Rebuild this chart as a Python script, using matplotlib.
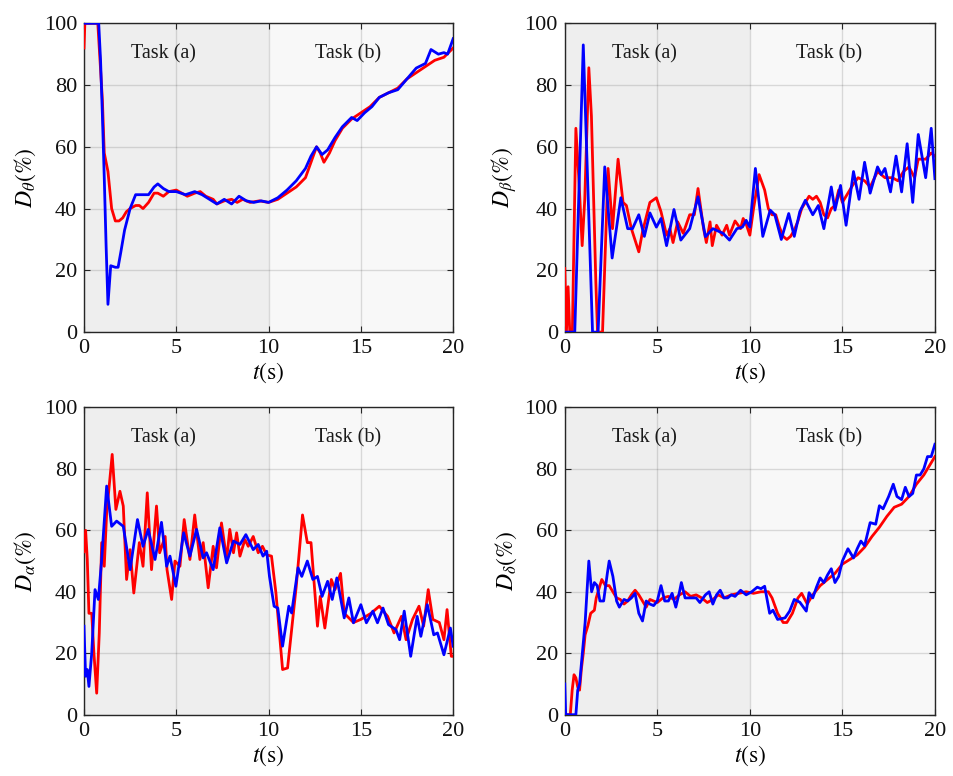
import matplotlib.pyplot as plt

plt.rcParams['font.family'] = ['Liberation Serif', 'DejaVu Serif']
plt.rcParams['mathtext.fontset'] = 'stix'

# ---- datos ----
# D_theta
t_theta_r = [0, 0.05, 0.75, 1.0, 1.1, 1.3, 1.5, 1.6, 1.7, 1.9, 2.1, 2.3, 2.5, 2.8, 3.0, 3.2, 3.5, 3.8, 4.0, 4.3,
             4.6, 5.0, 5.3, 5.6, 6.0, 6.3, 6.6, 7.0, 7.2, 7.6, 8.0, 8.3, 8.6, 9.0, 9.5, 10, 10.5, 11, 11.5, 12,
             12.3, 12.6, 12.8, 13.0, 13.3, 13.6, 14, 14.5, 15, 15.5, 16, 16.5, 17, 17.5, 18, 18.5, 19, 19.5, 20]
theta_r = [92, 100, 100, 75, 58, 52, 40, 38, 36, 36, 37, 39, 40, 41, 41, 40, 42, 45, 45, 44,
           45.5, 46, 45, 44, 45, 45.5, 44, 43, 41.5, 42.5, 43, 42, 43, 42, 42.5, 42, 43, 45, 47, 50,
           55, 60, 58, 55, 58, 62, 66, 69, 71, 73, 76, 77.5, 79, 82, 84, 86, 88, 89, 92]
t_theta_b = [0, 0.8, 0.9, 1.0, 1.1, 1.2, 1.3, 1.45, 1.7, 1.85, 2.0, 2.2, 2.5, 2.8, 3.0, 3.5, 3.8, 4.0, 4.3, 4.6,
             5.0, 5.5, 6.0, 6.4, 6.8, 7.2, 7.6, 8.0, 8.4, 8.8, 9.2, 9.6, 10, 10.5, 11, 11.5, 12, 12.3, 12.6, 12.9,
             13.2, 13.6, 14, 14.5, 14.8, 15.2, 15.6, 16, 16.5, 17, 17.5, 18, 18.5, 18.8, 19.2, 19.5, 19.7, 20]
theta_b = [100, 100, 88, 70, 50, 28, 9, 21.5, 21, 21, 26, 33, 40, 44.5, 44.5, 44.5, 47, 48, 46.5, 45.5,
           45.5, 44.5, 45.5, 44.5, 43, 41.5, 43, 41.5, 44, 42.5, 42, 42.5, 42, 43.5, 46, 49, 53, 57, 60, 57.5,
           59, 63, 66.5, 69.5, 68.5, 71, 73, 76, 77.5, 78.5, 82, 85.5, 87, 91.5, 90, 90.5, 90, 95]

# D_beta
t_beta_r = [0, 0.09, 0.18, 0.27, 0.41, 0.6, 0.77, 0.94, 1.08, 1.3, 1.44, 1.68, 1.77, 2.04, 2.34, 2.58, 2.88, 3.15,
            3.33, 3.6, 4.0, 4.2, 4.6, 4.95, 5.2, 5.5, 5.68, 5.85, 6.1, 6.4, 6.75, 7.0, 7.2, 7.5, 7.65, 7.85,
            7.97, 8.2, 8.5, 8.75, 8.9, 9.2, 9.5, 9.64, 9.8, 10.0, 10.2, 10.5, 10.8, 11.0, 11.2, 11.4, 11.6,
            11.8, 12.0, 12.2, 12.4, 12.6, 12.8, 13.0, 13.2, 13.4, 13.6, 13.8, 14.0, 14.2, 14.4, 14.6, 14.8,
            15.0, 15.2, 15.4, 15.6, 15.85, 16.2, 16.5, 16.9, 17.3, 17.7, 18.0, 18.3, 18.6, 18.9, 19.1, 19.5,
            19.8, 20]
beta_r = [20.6, 0, 14.7, 0, 0, 66, 48.6, 28, 43, 85.6, 70, 16, 0, 0, 53, 33.5, 56, 42,
          41, 33.5, 26, 32.5, 42, 43.5, 39, 31.4, 33.5, 29, 35.7, 32, 38, 38, 46.5, 33.5, 29, 35.7,
          28, 34.6, 31.4, 34.6, 31.4, 36, 33.5, 36.8, 35, 31.4, 40, 51, 46, 40, 38, 38, 34,
          31, 30, 31, 33, 36, 40, 42, 44, 43, 44, 42, 38, 37, 40, 41, 46,
          42, 44, 46, 48, 50, 49, 47, 52, 50, 50, 49, 52, 53.5, 50, 56, 56,
          58, 57]
t_beta_b = [0, 0.54, 1.0, 1.5, 1.8, 2.16, 2.56, 3.03, 3.4, 3.66, 4.0, 4.3, 4.6, 4.95, 5.2, 5.5, 5.9, 6.27,
            6.75, 7.2, 7.6, 8.0, 8.55, 8.9, 9.3, 9.6, 9.8, 10.0, 10.3, 10.7, 11.1, 11.35, 11.7, 12.1, 12.4,
            12.7, 13.0, 13.4, 13.7, 14.0, 14.4, 14.6, 14.9, 15.2, 15.6, 15.9, 16.2, 16.5, 16.9, 17.1, 17.3,
            17.6, 17.9, 18.2, 18.5, 18.8, 19.1, 19.5, 19.8, 20]
beta_b = [0, 0, 93, 0, 0, 53.5, 24, 43.5, 33.5, 33.5, 38, 31, 38.6, 34, 36.8, 28, 39.7, 29.8,
          33.5, 43.8, 30.9, 33.5, 32, 29.8, 33.5, 34, 36.2, 34, 53, 31, 39.5, 38, 30, 38.4, 31,
          39, 42.7, 38, 41, 33.5, 47, 39.5, 47.5, 34.6, 52, 43, 55, 45, 53.5, 51, 53,
          45.4, 57, 45.4, 61, 42, 64, 50, 66, 49.7]

# D_alpha
t_alpha_r = [0, 0.09, 0.18, 0.27, 0.42, 0.54, 0.69, 0.83, 0.96, 1.1, 1.23, 1.53, 1.73, 1.95, 2.13, 2.31, 2.5,
             2.7, 3.0, 3.2, 3.43, 3.66, 3.93, 4.1, 4.4, 4.5, 4.75, 4.93, 5.2, 5.43, 5.74, 6.0, 6.28, 6.46,
             6.73, 7.0, 7.18, 7.45, 7.73, 7.9, 8.1, 8.27, 8.45, 8.72, 8.9, 9.17, 9.44, 9.67, 9.9, 10.16,
             10.4, 10.76, 11.03, 11.5, 11.84, 12.1, 12.3, 12.65, 12.8, 13.05, 13.4, 13.6, 13.9, 14.1, 14.6,
             15.0, 15.55, 16.0, 16.45, 16.8, 17.2, 17.45, 17.8, 18.15, 18.4, 18.65, 18.9, 19.25, 19.5,
             19.67, 19.9, 20]
alpha_r = [53, 60, 50.5, 33, 33, 20, 7, 26.6, 56, 48.3, 65.7, 84.7, 66.8, 72.7, 67.9, 44, 53.7,
           39.6, 56, 48.3, 72.2, 47.2, 67.9, 52.7, 58, 47.2, 37.5, 50, 48.3, 63.5, 50.5, 65, 50.5, 56,
           41.3, 54.8, 47.8, 62.4, 50.5, 60.3, 52.7, 59.2, 51.6, 57, 54.8, 58, 52.7, 54.8, 52, 51.6,
           39.6, 14.7, 15.2, 41.8, 65, 56, 56, 28.8, 38.5, 28.2, 44, 40.7, 46, 33, 30,
           31, 33, 35.3, 32, 26.6, 32, 24.4, 31, 35.3, 28.8, 40.7, 31, 30, 24.4,
           34.2, 19, 19]
t_alpha_b = [0, 0.09, 0.18, 0.27, 0.42, 0.6, 0.78, 0.96, 1.23, 1.5, 1.77, 2.13, 2.5, 2.9, 3.2, 3.48, 3.85,
             4.2, 4.48, 4.66, 4.98, 5.4, 5.74, 6.1, 6.46, 6.64, 7.0, 7.36, 7.73, 8.1, 8.45, 8.77, 9.17,
             9.44, 9.7, 9.9, 10.05, 10.3, 10.5, 10.76, 11.1, 11.25, 11.6, 11.8, 12.1, 12.4, 12.65, 12.9,
             13.2, 13.45, 13.7, 14.1, 14.35, 14.6, 15.0, 15.3, 15.65, 15.9, 16.2, 16.5, 16.9, 17.1, 17.35,
             17.7, 18.05, 18.25, 18.6, 18.95, 19.15, 19.5, 19.85, 20]
alpha_b = [28.8, 12.5, 14.7, 9.2, 20, 40.7, 37.5, 50.5, 74.4, 61.3, 63, 61.3, 47.2, 63.5, 54.8, 60.3, 50.5,
           62.6, 48.3, 51.6, 41.8, 59.2, 51.6, 60.3, 51, 52.7, 47.2, 60.8, 49.4, 56.5, 55.4, 58.6, 53.7,
           55.4, 51.6, 53.2, 45, 35.3, 34.7, 22.3, 35.3, 33.1, 47.8, 45, 50, 44, 45, 38.5,
           43.4, 37.5, 44.5, 31.5, 38, 29.9, 35.8, 29.9, 33.7, 29.9, 34.7, 29.3, 27.7, 24.4, 33.7,
           19, 32, 25.5, 35.8, 26, 26.6, 19.5, 28.2, 22.3]

# D_delta
t_delta_r = [0, 0.3, 0.4, 0.5, 0.6, 0.7, 0.8, 0.9, 1.0, 1.1, 1.25, 1.4, 1.6, 1.7, 1.85, 2.0, 2.2, 2.4, 2.6,
             2.8, 3.0, 3.2, 3.4, 3.6, 3.8, 4.0, 4.2, 4.4, 4.6, 4.8, 5.0, 5.3, 5.6, 5.9, 6.2, 6.5, 6.8, 7.1,
             7.4, 7.7, 8.0, 8.3, 8.6, 9.0, 9.4, 9.8, 10.2, 10.6, 11.0, 11.2, 11.5, 11.8, 12.0, 12.3, 12.6,
             12.8, 13.1, 13.4, 13.8, 14.2, 14.6, 15.0, 15.4, 15.8, 16.2, 16.6, 17.0, 17.4, 17.8, 18.2, 18.6,
             19.0, 19.4, 19.8, 20]
delta_r = [0, 0, 8, 13, 12, 9, 8, 15, 20, 26, 29, 33, 34, 38, 41, 44, 42, 42, 40,
           38, 37.5, 36, 37, 39, 40.5, 39, 37, 35, 37.5, 37, 36.5, 38, 38.5, 37.5, 39, 40, 38.5, 39,
           38, 36.5, 37.5, 39, 38, 39, 39.5, 40, 39.5, 40, 40, 38, 33, 30, 30, 33, 38,
           39.5, 36, 39, 42, 44, 46, 49, 50.5, 52, 54.5, 58, 61, 64.5, 67.5, 68.5, 71,
           75, 78, 82, 84]
t_delta_b = [0, 0.05, 0.6, 0.7, 0.8, 0.95, 1.1, 1.3, 1.45, 1.6, 1.75, 1.9, 2.1, 2.3, 2.4, 2.6, 2.8, 2.95,
             3.2, 3.4, 3.6, 3.8, 4.0, 4.2, 4.4, 4.6, 4.8, 5.0, 5.2, 5.4, 5.6, 5.8, 6.0, 6.2, 6.3, 6.5, 6.8,
             7.1, 7.3, 7.6, 7.8, 8.0, 8.2, 8.4, 8.6, 8.8, 9.0, 9.2, 9.5, 9.8, 10.1, 10.4, 10.6, 10.8, 11.07,
             11.25, 11.5, 11.9, 12.15, 12.4, 12.7, 13.05, 13.2, 13.4, 13.6, 13.8, 14.0, 14.2, 14.4, 14.6,
             14.8, 15.0, 15.3, 15.6, 15.8, 16.0, 16.2, 16.5, 16.8, 17.0, 17.2, 17.5, 17.75, 17.95, 18.2,
             18.4, 18.6, 18.8, 19.0, 19.2, 19.4, 19.6, 19.8, 20]
delta_b = [10, 0, 0, 8, 10, 20, 30, 50, 40, 43, 42, 37, 37, 46, 50, 45, 37, 35,
           37.5, 37, 38, 39.5, 33, 30.5, 37, 36, 35.5, 37, 42, 37, 37, 39.5, 35, 40, 43, 38, 38,
           38, 36.5, 39, 40, 36, 39, 40.5, 38, 38, 39, 38.5, 40.5, 39, 40, 41.5, 41, 41.8, 33,
           34, 31, 31.5, 33.7, 37.5, 36.6, 33.7, 39.7, 38, 41.5, 44.5, 43, 45.5, 47.5, 43,
           45, 50, 54, 51, 54, 56.5, 55, 62.5, 62, 68, 67, 71, 75, 71, 70,
           74, 71, 72, 78, 78, 80, 84, 84, 88]

paneles = [
    (t_theta_r, theta_r, t_theta_b, theta_b, r'$D_\theta(\%)$'),
    (t_beta_r, beta_r, t_beta_b, beta_b, r'$D_\beta(\%)$'),
    (t_alpha_r, alpha_r, t_alpha_b, alpha_b, r'$D_\alpha(\%)$'),
    (t_delta_r, delta_r, t_delta_b, delta_b, r'$D_\delta(\%)$'),
]

# posiciones de los ejes en fraccion de la figura
posiciones = [
    [0.088, 0.572, 0.387, 0.398],
    [0.592, 0.572, 0.388, 0.398],
    [0.088, 0.079, 0.387, 0.396],
    [0.592, 0.079, 0.388, 0.396],
]

fig = plt.figure(figsize=(9.54, 7.76), dpi=100)

for (tr, yr, tb, yb, etiqueta), pos in zip(paneles, posiciones):
    ax = fig.add_axes(pos)
    ax.axvspan(0, 10, color='#eeeeee', zorder=0, lw=0)
    ax.axvspan(10, 20, color='#f8f8f8', zorder=0, lw=0)
    ax.grid(True, color=(0.15, 0.15, 0.15), alpha=0.15, lw=1, zorder=1)
    ax.plot(tr, yr, color='#ff0000', lw=2, zorder=3)
    ax.plot(tb, yb, color='#0000ff', lw=2, zorder=4)
    ax.text(4.3, 90, 'Task (a)', ha='center', va='center', fontsize=14.5, color='#1a1a1a')
    ax.text(14.3, 90, 'Task (b)', ha='center', va='center', fontsize=14.5, color='#1a1a1a')
    ax.set_xlim(0, 20)
    ax.set_ylim(0, 100)
    ax.set_xticks([0, 5, 10, 15, 20])
    ax.set_yticks([0, 20, 40, 60, 80, 100])
    ax.tick_params(direction='in', length=4, width=0.8, labelsize=16, top=True, right=True,
                   colors='#262626', labelcolor='#111111', pad=5)
    for s in ax.spines.values():
        s.set_color('#262626')
        s.set_linewidth(1)
    ax.set_axisbelow(False)
    ax.set_xlabel(r'$t(\mathrm{s})$', fontsize=17, labelpad=2)
    ax.set_ylabel(etiqueta, fontsize=17, labelpad=4)

plt.savefig('out.png', dpi=100)
